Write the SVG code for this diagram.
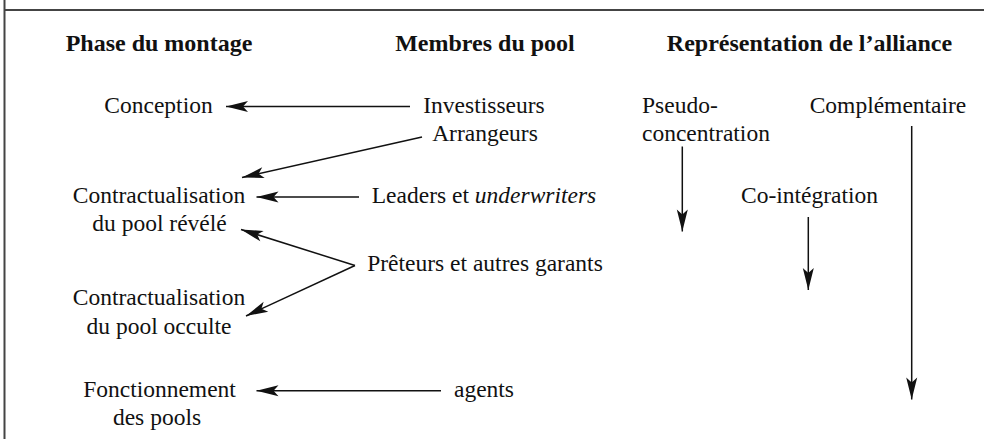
<svg xmlns="http://www.w3.org/2000/svg" width="984" height="439" viewBox="0 0 984 439">
<style>
.t{font-family:'Liberation Serif','Times New Roman',Times,'DejaVu Serif',serif;font-size:23.5px;fill:#111}
.h{font-family:'Liberation Serif','Times New Roman',Times,'DejaVu Serif',serif;font-size:24px;font-weight:bold;fill:#111}
.m{text-anchor:middle}
.c line{stroke:#111;stroke-width:1.5;fill:none;marker-end:url(#ah)}
.frame{stroke:#444;fill:none}
</style>
<defs>
<marker id="ah" markerUnits="userSpaceOnUse" viewBox="-23 -6 24 12" refX="0" refY="0" markerWidth="24" markerHeight="12" orient="auto" overflow="visible">
<path d="M0,0 L-22,-5.5 L-17,0 L-22,5.5 Z" fill="#111"/>
</marker>
</defs>
<rect width="984" height="439" fill="#fff"/>
<g id="frame">
<line class="frame" x1="4.5" y1="0" x2="4.5" y2="439" stroke-width="2"/>
<line class="frame" x1="4" y1="10" x2="984" y2="10" stroke-width="1.8"/>
</g>
<g id="headers" font-family="Liberation Serif, serif">
<text class="h m" x="159" y="51">Phase du montage</text>
<text class="h m" x="485" y="51">Membres du pool</text>
<text class="h m" x="809.5" y="51">Représentation de l’alliance</text>
</g>
<g id="conception"><text class="t m" x="158.5" y="113">Conception</text></g>
<g id="contrat-revele"><text class="t m" x="159" y="203">Contractualisation</text><text class="t m" x="159.5" y="231">du pool révélé</text></g>
<g id="contrat-occulte"><text class="t m" x="159" y="305">Contractualisation</text><text class="t m" x="159" y="334">du pool occulte</text></g>
<g id="fonctionnement"><text class="t m" x="159.5" y="397">Fonctionnement</text><text class="t m" x="157" y="425">des pools</text></g>
<g id="investisseurs"><text class="t m" x="484" y="113">Investisseurs</text></g>
<g id="arrangeurs"><text class="t m" x="485" y="141">Arrangeurs</text></g>
<g id="leaders"><text class="t m" x="484" y="203">Leaders et <tspan font-style="italic">underwriters</tspan></text></g>
<g id="preteurs"><text class="t m" x="485" y="271">Prêteurs et autres garants</text></g>
<g id="agents"><text class="t m" x="484" y="397">agents</text></g>
<g id="pseudo"><text class="t" x="642" y="113">Pseudo-</text><text class="t" x="642" y="141">concentration</text></g>
<g id="complementaire"><text class="t m" x="888" y="113">Complémentaire</text></g>
<g id="cointegration"><text class="t m" x="809.5" y="203">Co-intégration</text></g>
<g id="connectors" class="c">
<line x1="410" y1="106.5" x2="226" y2="106.5"/>
<line x1="422" y1="137" x2="242" y2="177.5"/>
<line x1="359" y1="197" x2="256.5" y2="197"/>
<line x1="355" y1="265.5" x2="241" y2="229.5"/>
<line x1="355" y1="265.5" x2="246" y2="316"/>
<line x1="441" y1="390.7" x2="256.5" y2="390.7"/>
<line x1="682.3" y1="146.5" x2="682.3" y2="231.5"/>
<line x1="808.3" y1="217" x2="808.3" y2="290"/>
<line x1="911.7" y1="126" x2="911.7" y2="399.5"/>
</g>
</svg>
